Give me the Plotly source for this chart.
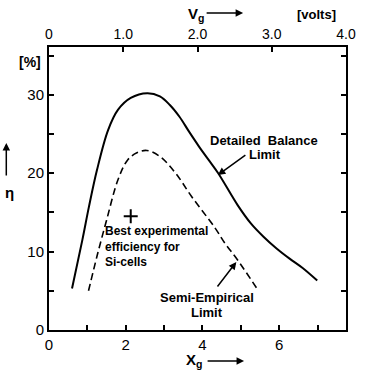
import plotly.graph_objects as go

# ---- data ----
db_x = [0.60, 0.87, 1.04, 1.25, 1.54, 1.80, 2.13, 2.56, 2.89, 3.15, 3.40, 3.65, 3.91, 4.16, 4.41,
        4.92, 5.26, 5.59, 5.93, 6.27, 6.61, 6.99]
db_y = [5.3, 11.5, 15.7, 20.4, 25.5, 28.1, 29.6, 30.2, 29.8, 28.7, 27.2, 25.3, 23.4, 21.7, 20.0,
        15.9, 13.6, 11.9, 10.4, 9.1, 7.9, 6.3]

se_x = [1.03, 1.25, 1.50, 1.80, 2.05, 2.29, 2.55, 2.90, 3.30, 3.72, 4.33, 4.58, 4.92, 5.43]
se_y = [5.0, 9.4, 14.0, 19.2, 21.7, 22.6, 22.9, 22.1, 20.0, 17.0, 13.0, 11.1, 8.9, 5.2]

best_x = [2.13]
best_y = [14.5]

x_ticks = [0, 1, 2, 3, 4, 5, 6, 7]
x_ticktext = ["0", "", "2", "", "4", "", "6", ""]
v_ticks = [0, 1, 2, 3, 4]
v_ticktext = ["0", "1.0", "2.0", "3.0", "4.0"]
y_ticks = [0, 5, 10, 15, 20, 25, 30, 35]
y_ticktext = ["0", "", "10", "", "20", "", "30", ""]

W, H = 368, 373
L, R, T, B = 49, 13, 47, 43
PW, PH = W - L - R, H - T - B
FONT = "Liberation Sans"


def px(x):
    return (x - L) / PW


def py(y):
    return (H - B - y) / PH


def label(text, x, y, size=14, anchor="center", align="center"):
    return dict(x=px(x), y=py(y), xref="paper", yref="paper", text=text, showarrow=False,
                xanchor=anchor, yanchor="middle", align=align,
                font=dict(family=FONT, size=size, color="black"))


def arrow(head, tail):
    return dict(x=px(head[0]), y=py(head[1]), xref="paper", yref="paper",
                ax=tail[0] - head[0], ay=tail[1] - head[1], axref="pixel", ayref="pixel",
                text="", showarrow=True, arrowhead=2, arrowsize=1, arrowwidth=1.5,
                arrowcolor="black")


fig = go.Figure()
fig.add_trace(go.Scatter(x=db_x, y=db_y, mode="lines", line=dict(color="black", width=2, shape="spline"),
                         hoverinfo="skip", showlegend=False))
fig.add_trace(go.Scatter(x=se_x, y=se_y, mode="lines",
                         line=dict(color="black", width=1.6, dash="7px,4px", shape="spline"),
                         hoverinfo="skip", showlegend=False))
fig.add_trace(go.Scatter(x=best_x, y=best_y, mode="markers",
                         marker=dict(symbol="cross-thin", size=10, line=dict(color="black", width=2)),
                         hoverinfo="skip", showlegend=False))
# invisible trace to activate top axis
fig.add_trace(go.Scatter(x=[0], y=[0], xaxis="x2", mode="markers", marker=dict(opacity=0),
                         hoverinfo="skip", showlegend=False))

axis_common = dict(showgrid=False, zeroline=False, showline=True, linecolor="black", linewidth=2,
                   ticks="inside", ticklen=5, tickwidth=1.5, tickcolor="black",
                   tickfont=dict(family=FONT, size=15, color="black"))

fig.update_layout(
    width=W, height=H,
    margin=dict(l=L, r=R, t=T, b=B),
    paper_bgcolor="white", plot_bgcolor="white",
    xaxis=dict(range=[0, 7.74], tickvals=x_ticks, ticktext=x_ticktext, **axis_common),
    xaxis2=dict(range=[0, 4.0], overlaying="x", side="top", tickvals=v_ticks, ticktext=v_ticktext,
                **{**axis_common, "tickfont": dict(family=FONT, size=14, color="black")}),
    yaxis=dict(range=[0, 36.1], tickvals=y_ticks, ticktext=y_ticktext, mirror="ticks", **axis_common),
)

anns = [
    # curve labels
    label("<b>Detailed  Balance</b>", 271, 140, 13),
    label("<b>Limit</b>", 253, 154, 13, "left"),
    arrow((223, 175), (252, 154)),
    label("<b>Best experimental</b><br><b>efficiency for</b><br><b>Si-cells</b>", 105, 246, 12,
          "left", "left"),
    label("<b>Semi-Empirical</b>", 212, 297, 13),
    label("<b>Limit</b>", 212, 312, 13),
    arrow((242, 262), (222, 288)),
    # axis titles
    label("<b>V<sub>g</sub></b>", 200, 14, 15),
    arrow((249, 13), (211, 13)),
    label("<b>[volts]</b>", 325, 14, 13),
    label("<b>X<sub>g</sub></b>", 198, 360, 15),
    arrow((250, 361), (212, 361)),
    label("<b>[%]</b>", 29, 62, 14),
    label("<b>η</b>", 8, 192, 15),
    arrow((5, 143), (5, 177)),
]
fig.update_layout(annotations=anns)

fig.write_html("out.html", config={"displayModeBar": False},
               post_script="document.body.style.margin='0';document.body.style.overflow='hidden';")
